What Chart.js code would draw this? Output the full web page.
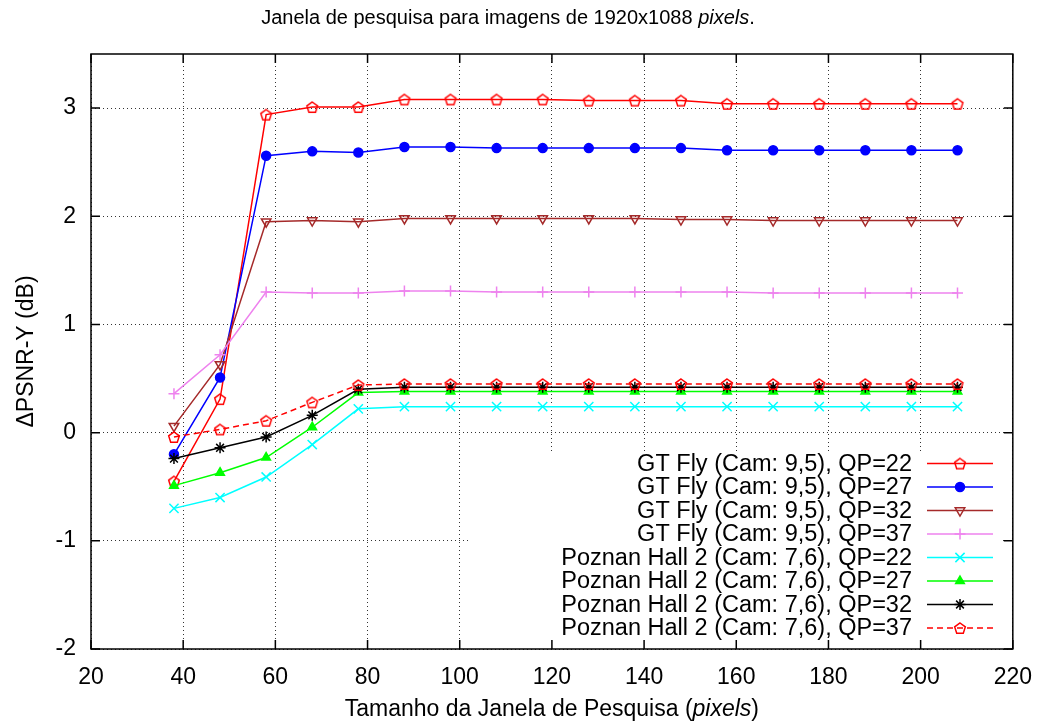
<!DOCTYPE html>
<html lang="pt">
<head>
<meta charset="utf-8">
<title>Janela de pesquisa</title>
<script src="https://cdn.jsdelivr.net/npm/chart.js@4.4.0/dist/chart.umd.min.js"></script>
<style>
  html, body { margin: 0; padding: 0; background: #fff; }
  canvas { display: block; }
</style>
</head>
<body>
<canvas id="grafico" width="1047" height="722"></canvas>
<script>
// Tamanho da janela de pesquisa (pixels)
const janelas = [38, 48, 58, 68, 78, 88, 98, 108, 118, 128, 138, 148, 158, 168, 178, 188, 198, 208];

// Ganho de PSNR-Y (dB) - GT Fly (Cam: 9,5)
const gtFlyQP22 = [-0.45, 0.31, 2.94, 3.01, 3.01, 3.08, 3.08, 3.08, 3.08, 3.07, 3.07, 3.07, 3.04, 3.04, 3.04, 3.04, 3.04, 3.04];
const gtFlyQP27 = [-0.20, 0.51, 2.56, 2.60, 2.59, 2.64, 2.64, 2.63, 2.63, 2.63, 2.63, 2.63, 2.61, 2.61, 2.61, 2.61, 2.61, 2.61];
const gtFlyQP32 = [0.06, 0.63, 1.95, 1.96, 1.95, 1.98, 1.98, 1.98, 1.98, 1.98, 1.98, 1.97, 1.97, 1.96, 1.96, 1.96, 1.96, 1.96];
const gtFlyQP37 = [0.36, 0.72, 1.30, 1.29, 1.29, 1.31, 1.31, 1.30, 1.30, 1.30, 1.30, 1.30, 1.30, 1.29, 1.29, 1.29, 1.29, 1.29];

// Ganho de PSNR-Y (dB) - Poznan Hall 2 (Cam: 7,6)
const poznanQP22 = [-0.70, -0.60, -0.41, -0.11, 0.22, 0.24, 0.24, 0.24, 0.24, 0.24, 0.24, 0.24, 0.24, 0.24, 0.24, 0.24, 0.24, 0.24];
const poznanQP27 = [-0.49, -0.37, -0.23, 0.05, 0.37, 0.38, 0.38, 0.38, 0.38, 0.38, 0.38, 0.38, 0.38, 0.38, 0.38, 0.38, 0.38, 0.38];
const poznanQP32 = [-0.24, -0.14, -0.04, 0.16, 0.40, 0.42, 0.42, 0.42, 0.42, 0.42, 0.42, 0.42, 0.42, 0.42, 0.42, 0.42, 0.42, 0.42];
const poznanQP37 = [-0.04, 0.03, 0.11, 0.28, 0.44, 0.45, 0.45, 0.45, 0.45, 0.45, 0.45, 0.45, 0.45, 0.45, 0.45, 0.45, 0.45, 0.45];

const rotulos = [
  'GT Fly (Cam: 9,5), QP=22',
  'GT Fly (Cam: 9,5), QP=27',
  'GT Fly (Cam: 9,5), QP=32',
  'GT Fly (Cam: 9,5), QP=37',
  'Poznan Hall 2 (Cam: 7,6), QP=22',
  'Poznan Hall 2 (Cam: 7,6), QP=27',
  'Poznan Hall 2 (Cam: 7,6), QP=32',
  'Poznan Hall 2 (Cam: 7,6), QP=37'
];

const FONTE = "'Liberation Sans', Arial, Helvetica, sans-serif";

// marcador pentagono (vazado) - o Chart.js nao tem esse formato
const pentagono = document.createElement('canvas');
pentagono.width = 16;
pentagono.height = 16;
(function () {
  const c = pentagono.getContext('2d');
  c.strokeStyle = '#ff0000';
  c.lineWidth = 1.5;
  c.beginPath();
  for (let k = 0; k < 5; k++) {
    const a = -Math.PI / 2 + k * 2 * Math.PI / 5;
    const px = 8 + 5.6 * Math.cos(a);
    const py = 8.6 + 5.6 * Math.sin(a);
    if (k === 0) c.moveTo(px, py); else c.lineTo(px, py);
  }
  c.closePath();
  c.stroke();
})();

const estilos = [
  { cor: '#ff0000', fundo: 'rgba(0,0,0,0)', ponto: pentagono, raio: 6, rot: 0, traco: [] },
  { cor: '#0000ff', fundo: '#0000ff', ponto: 'circle', raio: 4.5, rot: 0, traco: [] },
  { cor: '#a52a2a', fundo: 'rgba(0,0,0,0)', ponto: 'triangle', raio: 5.5, rot: 180, traco: [] },
  { cor: '#ee82ee', fundo: 'rgba(0,0,0,0)', ponto: 'cross', raio: 5.5, rot: 0, traco: [] },
  { cor: '#00ffff', fundo: 'rgba(0,0,0,0)', ponto: 'crossRot', raio: 6.5, rot: 0, traco: [] },
  { cor: '#00ff00', fundo: '#00ff00', ponto: 'triangle', raio: 5, rot: 0, traco: [] },
  { cor: '#000000', fundo: 'rgba(0,0,0,0)', ponto: 'star', raio: 5.5, rot: 0, traco: [] },
  { cor: '#ff0000', fundo: 'rgba(0,0,0,0)', ponto: pentagono, raio: 6, rot: 0, traco: [6, 4] }
];

const series = [gtFlyQP22, gtFlyQP27, gtFlyQP32, gtFlyQP37, poznanQP22, poznanQP27, poznanQP32, poznanQP37];

const datasets = series.map((valores, i) => ({
  label: rotulos[i],
  data: valores.map((v, j) => ({ x: janelas[j], y: v })),
  borderColor: estilos[i].cor,
  backgroundColor: estilos[i].fundo,
  borderWidth: 1.5,
  borderDash: estilos[i].traco,
  pointStyle: estilos[i].ponto,
  pointRadius: estilos[i].raio,
  pointRotation: estilos[i].rot,
  pointBorderWidth: 1.5,
  tension: 0,
  order: series.length - 1 - i
}));

// coloca um trecho em italico no meio de um texto
function textoMisto(ctx, partes, x, y, tam) {
  const fontes = partes.map(p => (p.it ? 'italic ' : '') + tam + 'px ' + FONTE);
  let total = 0;
  partes.forEach((p, k) => { ctx.font = fontes[k]; total += ctx.measureText(p.t).width; });
  let cx = x - total / 2;
  ctx.textAlign = 'left';
  partes.forEach((p, k) => {
    ctx.font = fontes[k];
    ctx.fillText(p.t, cx, y);
    cx += ctx.measureText(p.t).width;
  });
}

const moldura = {
  id: 'moldura',
  beforeDatasetsDraw(chart) {
    // caixa da legenda cobre a grade
    const a = chart.chartArea;
    const ctx = chart.ctx;
    ctx.save();
    ctx.fillStyle = '#ffffff';
    ctx.fillRect(471, 451, a.right - 12 - 471, a.bottom - 2 - 451);
    ctx.restore();
  },
  afterDraw(chart) {
    const a = chart.chartArea;
    const ctx = chart.ctx;
    const sx = chart.scales.x;
    const sy = chart.scales.y;
    ctx.save();
    ctx.strokeStyle = '#000';
    ctx.lineWidth = 1.5;
    ctx.setLineDash([]);
    ctx.strokeRect(a.left, a.top, a.right - a.left, a.bottom - a.top);

    // marcas dos eixos, para dentro, nos quatro lados
    ctx.beginPath();
    sx.ticks.forEach(t => {
      const px = sx.getPixelForValue(t.value);
      ctx.moveTo(px, a.bottom); ctx.lineTo(px, a.bottom - 9);
      ctx.moveTo(px, a.top); ctx.lineTo(px, a.top + 9);
    });
    sy.ticks.forEach(t => {
      const py = sy.getPixelForValue(t.value);
      ctx.moveTo(a.left, py); ctx.lineTo(a.left + 9, py);
      ctx.moveTo(a.right, py); ctx.lineTo(a.right - 9, py);
    });
    ctx.stroke();

    // titulos
    ctx.fillStyle = '#000';
    ctx.textBaseline = 'alphabetic';
    textoMisto(ctx, [
      { t: 'Janela de pesquisa para imagens de 1920x1088 ' },
      { t: 'pixels', it: true },
      { t: '.' }
    ], 508, 24, 20);
    textoMisto(ctx, [
      { t: 'Tamanho da Janela de Pesquisa (' },
      { t: 'pixels', it: true },
      { t: ')' }
    ], (a.left + a.right) / 2, 716, 23);

    ctx.save();
    ctx.translate(33, (a.top + a.bottom) / 2);
    ctx.rotate(-Math.PI / 2);
    ctx.font = '23px ' + FONTE;
    ctx.textAlign = 'center';
    ctx.fillText('\u0394PSNR-Y (dB)', 0, 0);
    ctx.restore();

    // legenda: texto a direita, amostra da linha e marcador
    const direita = 912, ini = 927, fim = 993, meio = 960;
    chart.data.datasets.forEach((ds, i) => {
      const y = 463.5 + i * 23.5;
      ctx.font = '23.5px ' + FONTE;
      ctx.textAlign = 'right';
      ctx.textBaseline = 'middle';
      ctx.fillStyle = '#000';
      ctx.fillText(ds.label, direita, y + 1);

      ctx.strokeStyle = ds.borderColor;
      ctx.lineWidth = ds.borderWidth;
      ctx.setLineDash(ds.borderDash || []);
      ctx.beginPath();
      ctx.moveTo(ini, y); ctx.lineTo(fim, y);
      ctx.stroke();

      ctx.setLineDash([]);
      ctx.fillStyle = ds.backgroundColor;
      ctx.lineWidth = ds.pointBorderWidth;
      if (Chart.helpers && Chart.helpers.drawPoint) {
        Chart.helpers.drawPoint(ctx, {
          pointStyle: ds.pointStyle,
          rotation: ds.pointRotation,
          radius: ds.pointRadius,
          borderWidth: ds.pointBorderWidth
        }, meio, y);
      }
    });
    ctx.restore();
  }
};

const config = {
  type: 'line',
  data: { datasets: datasets },
  options: {
    responsive: false,
    animation: false,
    layout: { padding: { top: 54, right: 26, left: 0, bottom: 0 } },
    plugins: {
      legend: { display: false },
      title: { display: false },
      tooltip: { enabled: false }
    },
    scales: {
      x: {
        type: 'linear',
        min: 20,
        max: 220,
        afterFit(scale) { scale.height = 73; },
        ticks: {
          stepSize: 20,
          includeBounds: false,
          padding: 15,
          color: '#000',
          font: { family: FONTE, size: 23 }
        },
        grid: { color: 'rgba(0,0,0,0.8)', lineWidth: 1, drawTicks: false },
        border: { display: false, dash: [1, 3] }
      },
      y: {
        type: 'linear',
        min: -2,
        max: 3.5,
        afterFit(scale) { scale.width = 91; },
        ticks: {
          stepSize: 1,
          includeBounds: false,
          padding: 15,
          color: '#000',
          font: { family: FONTE, size: 23 }
        },
        grid: { color: 'rgba(0,0,0,0.8)', lineWidth: 1, drawTicks: false },
        border: { display: false, dash: [1, 3] }
      }
    }
  },
  plugins: [moldura]
};

const grafico = new Chart(document.getElementById('grafico'), config);
</script>
</body>
</html>
